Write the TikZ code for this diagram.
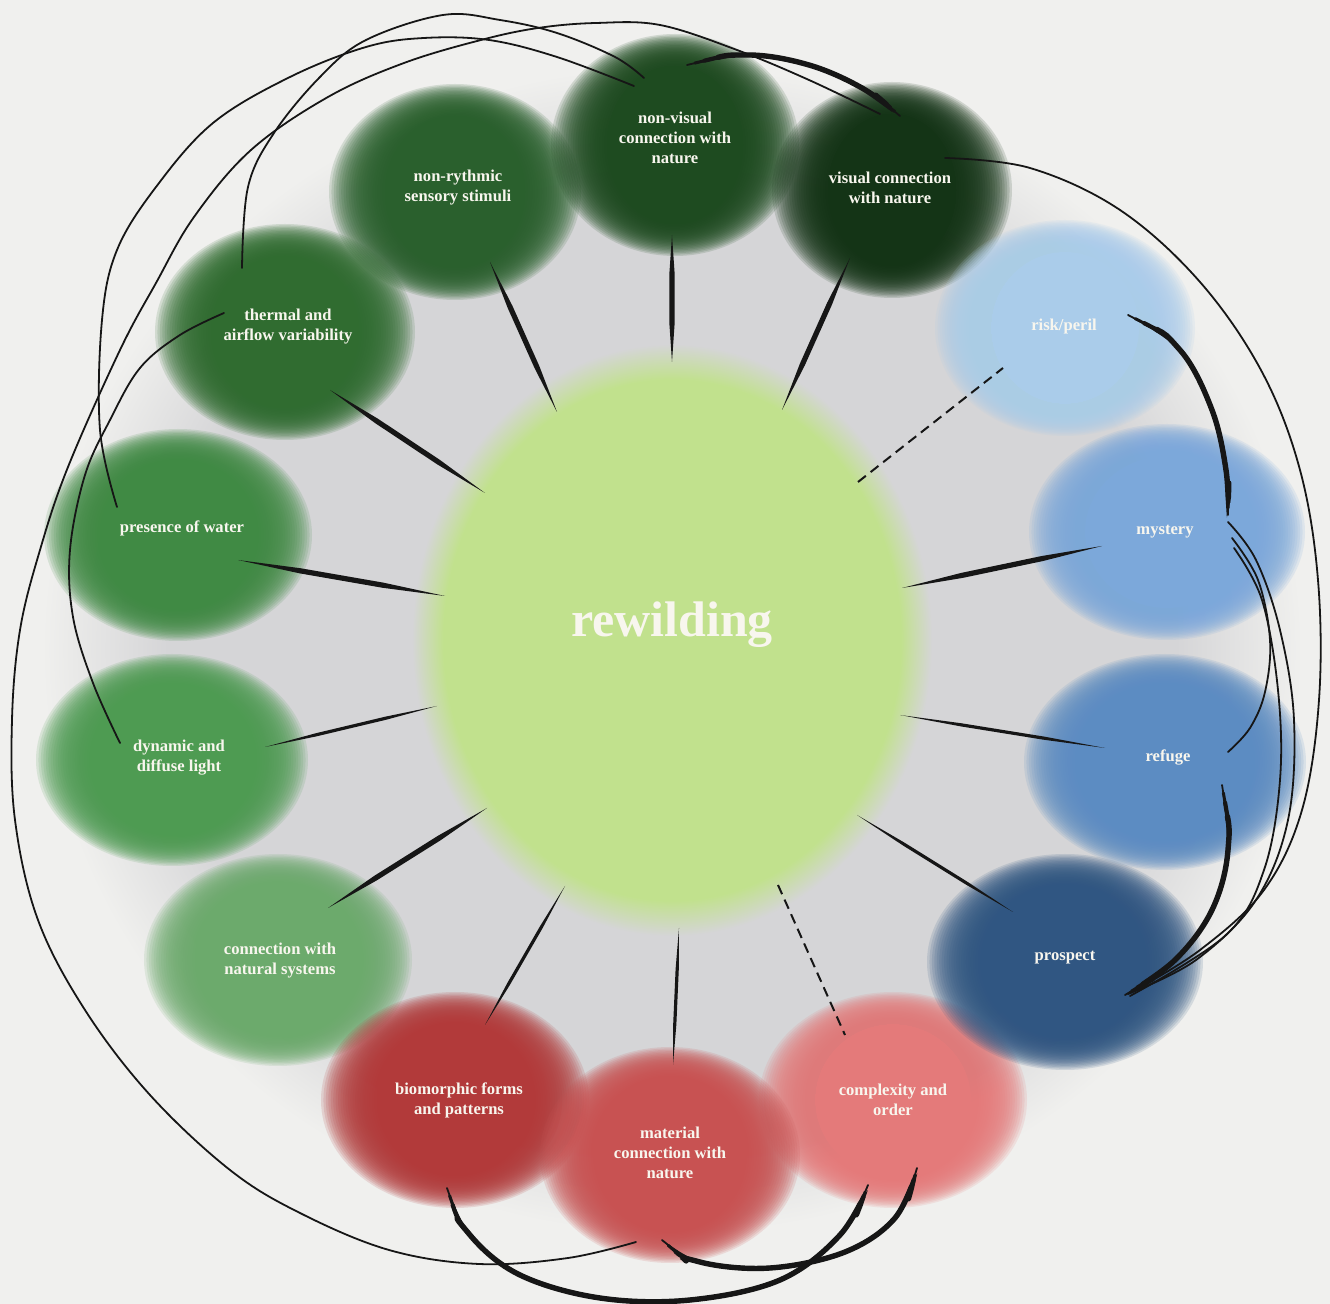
\documentclass[tikz,border=0pt]{standalone}
\usepackage{fontspec}
\setmainfont{Liberation Serif}
\usetikzlibrary{calc}
\definecolor{bg}{RGB}{240,240,238}
\definecolor{graybg}{RGB}{213,213,215}
\definecolor{core}{RGB}{193,225,141}
\definecolor{ink}{RGB}{22,22,22}
\definecolor{cream}{RGB}{248,246,238}
\definecolor{cnv}{RGB}{30,75,32}
\definecolor{cvis}{RGB}{20,52,22}
\definecolor{cnr}{RGB}{42,96,45}
\definecolor{cth}{RGB}{48,108,48}
\definecolor{cwa}{RGB}{64,138,68}
\definecolor{cdl}{RGB}{78,155,82}
\definecolor{cns}{RGB}{108,170,108}
\definecolor{cbf}{RGB}{178,58,58}
\definecolor{cmc}{RGB}{200,82,82}
\definecolor{cco}{RGB}{228,122,122}
\definecolor{cpr}{RGB}{48,86,130}
\definecolor{cre}{RGB}{92,140,194}
\definecolor{cmy}{RGB}{124,168,218}
\definecolor{cri}{RGB}{170,204,234}
\pgfdeclareradialshading{halo}{\pgfpointorigin}{color(0bp)=(graybg); color(20bp)=(graybg); color(25bp)=(bg); color(50bp)=(bg)}
\pgfdeclareradialshading{greencore}{\pgfpointorigin}{color(0bp)=(core); color(22bp)=(core); color(25bp)=(graybg); color(50bp)=(graybg)}
% x y rx ry colour xfade yfade
\newcommand\softblob[7]{%
  \fill[#5] (#1,#2) circle [x radius={(#3-#6)*0.5pt}, y radius={(#4-#7)*0.5pt}];
  \foreach \k in {0,...,23}{%
    \fill[#5, opacity=0.15] (#1,#2) circle [x radius={(#3+#6-\k*2*#6/23)*0.5pt}, y radius={(#4+#7-\k*2*#7/23)*0.5pt}];
  }}
\newcommand\spoke[3]{%
  \path (#1) coordinate (sA) (#2) coordinate (sB);
  \fill[ink] (sA) -- ($(sA)!0.3!(sB)!#3!90:(sB)$) -- ($(sA)!0.7!(sB)!#3!90:(sB)$) -- (sB)
     -- ($(sA)!0.7!(sB)!#3!-90:(sB)$) -- ($(sA)!0.3!(sB)!#3!-90:(sB)$) -- cycle;}
\newcommand\thickcurve[1]{%
  \draw[thincurve] plot[smooth,tension=0.6] coordinates {#1};
  \draw[thincurve, line width=1.5pt, shorten <=4pt, shorten >=4pt] plot[smooth,tension=0.6] coordinates {#1};
  \draw[thincurve, line width=2.1pt, shorten <=9pt, shorten >=9pt] plot[smooth,tension=0.6] coordinates {#1};
  \draw[thincurve, line width=2.7pt, shorten <=16pt, shorten >=16pt] plot[smooth,tension=0.6] coordinates {#1};}
\tikzset{
  thincurve/.style={draw=ink, line width=0.9pt, line cap=round},
  dashspoke/.style={draw=ink, line width=1pt, dash pattern=on 5pt off 3pt},
  lbl/.style={text=cream, font=\bfseries\fontsize{8.3}{10}\selectfont, align=center, inner sep=0pt},
  title/.style={text=cream, font=\bfseries\fontsize{25}{30}\selectfont, inner sep=0pt}
}
\begin{document}
\begin{tikzpicture}[x=0.5pt,y=-0.5pt]
\useasboundingbox (0,0) rectangle (1330,1304);
\fill[bg] (0,0) rectangle (1330,1304);
% gray halo and core
\shade[shading=halo] (672,650) circle [x radius=315pt, y radius=292pt];
\shade[shading=greencore] (672,640) circle [x radius=130pt, y radius=148pt];
% blobs
\softblob{455}{192}{98}{92}{cnr}{28}{16}
\softblob{675}{145}{96}{95}{cnv}{28}{16}
\softblob{892}{190}{92}{92}{cvis}{28}{16}
\softblob{285}{332}{102}{92}{cth}{28}{16}
\softblob{178}{535}{106}{90}{cwa}{28}{16}
\softblob{172}{760}{108}{90}{cdl}{28}{16}
\softblob{278}{960}{106}{90}{cns}{28}{16}
\softblob{455}{1100}{106}{92}{cbf}{28}{16}
\softblob{893}{1100}{106}{92}{cco}{28}{16}
\softblob{670}{1155}{102}{92}{cmc}{28}{16}
\softblob{1065}{962}{110}{92}{cpr}{28}{16}
\softblob{1165}{762}{113}{92}{cre}{28}{16}
\softblob{1167}{532}{110}{92}{cmy}{28}{16}
\softblob{1065}{328}{102}{92}{cri}{28}{16}
% spoke end points
\coordinate (hub-nv) at (672,362);   \coordinate (sp-nv) at (672,235);
\coordinate (hub-vis) at (782,410);  \coordinate (sp-vis) at (850,258);
\coordinate (hub-nr) at (557,412);   \coordinate (sp-nr) at (490,262);
\coordinate (hub-th) at (485,493);   \coordinate (sp-th) at (330,390);
\coordinate (hub-wa) at (445,596);   \coordinate (sp-wa) at (238,560);
\coordinate (hub-dl) at (437,706);   \coordinate (sp-dl) at (265,747);
\coordinate (hub-ns) at (487,808);   \coordinate (sp-ns) at (328,908);
\coordinate (hub-bf) at (565,886);   \coordinate (sp-bf) at (485,1025);
\coordinate (hub-mc) at (679,928);   \coordinate (sp-mc) at (673,1065);
\coordinate (hub-co) at (778,885);   \coordinate (sp-co) at (845,1035);
\coordinate (hub-pr) at (857,815);   \coordinate (sp-pr) at (1013,912);
\coordinate (hub-re) at (900,715);   \coordinate (sp-re) at (1105,748);
\coordinate (hub-my) at (902,588);   \coordinate (sp-my) at (1102,546);
\coordinate (hub-ri) at (858,482);   \coordinate (sp-ri) at (1003,368);
\spoke{hub-nv}{sp-nv}{1.3pt}
\spoke{hub-vis}{sp-vis}{1.3pt}
\spoke{hub-nr}{sp-nr}{1.3pt}
\spoke{hub-th}{sp-th}{1.3pt}
\spoke{hub-wa}{sp-wa}{1.3pt}
\spoke{hub-dl}{sp-dl}{0.8pt}
\spoke{hub-ns}{sp-ns}{1.3pt}
\spoke{hub-bf}{sp-bf}{0.8pt}
\spoke{hub-mc}{sp-mc}{0.8pt}
\spoke{hub-pr}{sp-pr}{0.8pt}
\spoke{hub-re}{sp-re}{0.8pt}
\spoke{hub-my}{sp-my}{1.3pt}
\draw[dashspoke] (hub-co) -- (sp-co);
\draw[dashspoke] (hub-ri) -- (sp-ri);
% curve end points
\coordinate (e-th1) at (242,268);  \coordinate (e-nv1) at (644,78);
\coordinate (e-wa) at (117,507);   \coordinate (e-nv2) at (634,86);
\coordinate (e-th2) at (224,313);  \coordinate (e-dl) at (120,743);
\coordinate (e-vis1) at (880,114); \coordinate (e-mc1) at (636,1242);
\coordinate (e-nv3) at (687,65);   \coordinate (e-vis2) at (900,116);
\coordinate (e-vis3) at (945,158); \coordinate (e-pr1) at (1130,993);
\coordinate (e-ri) at (1128,315);  \coordinate (e-my1) at (1228,515);
\coordinate (e-my2) at (1232,538); \coordinate (e-re1) at (1228,752);
\coordinate (e-my3) at (1228,522); \coordinate (e-pr2) at (1128,994);
\coordinate (e-my4) at (1234,548); \coordinate (e-pr3) at (1130,996);
\coordinate (e-re2) at (1222,785); \coordinate (e-pr4) at (1125,995);
\coordinate (e-bf) at (447,1188);  \coordinate (e-co1) at (868,1185);
\coordinate (e-mc2) at (662,1240); \coordinate (e-co2) at (917,1168);
% thin curves
\draw[thincurve] plot[smooth,tension=0.6] coordinates {(e-th1) (248,187) (274,133) (320,77) (366,40) (443,15) (500,20) (557,33) (615,57) (e-nv1)};
\draw[thincurve] plot[smooth,tension=0.6] coordinates {(e-wa) (100,430) (102,320) (117,250) (156,187) (213,123) (290,77) (366,47) (424,38) (489,40) (557,57) (e-nv2)};
\draw[thincurve] plot[smooth,tension=0.6] coordinates {(e-th2) (180,335) (140,368) (110,420) (85,475) (70,550) (73,617) (93,683) (e-dl)};
\draw[thincurve] plot[smooth,tension=0.6] coordinates {(e-vis1) (809,80) (737,50) (660,25) (596,23) (538,28) (481,40) (404,63) (328,97) (251,150) (194,217) (156,283) (120,350) (68,467) (40,550) (20,630) (12,720) (15,820) (38,920) (85,1010) (150,1095) (230,1170) (300,1213) (389,1250) (479,1264) (568,1258) (e-mc1)};
\draw[thincurve] plot[smooth,tension=0.6] coordinates {(e-vis3) (1030,168) (1120,210) (1200,282) (1262,372) (1300,470) (1318,580) (1319,700) (1302,810) (1264,890) (1200,950) (e-pr1)};
\draw[thincurve] plot[smooth,tension=0.6] coordinates {(e-my2) (1258,580) (1270,640) (1265,692) (1250,728) (e-re1)};
\draw[thincurve] plot[smooth,tension=0.6] coordinates {(e-my3) (1256,560) (1280,630) (1294,720) (1288,820) (1256,900) (1196,960) (e-pr2)};
\draw[thincurve] plot[smooth,tension=0.6] coordinates {(e-my4) (1262,600) (1278,690) (1280,780) (1264,870) (1226,935) (e-pr3)};
% thick curves
\thickcurve{(e-nv3) (748,55) (809,65) (862,88) (e-vis2)}
\thickcurve{(e-ri) (1180,350) (1212,410) (1226,470) (e-my1)}
\thickcurve{(e-re2) (1228,850) (1212,910) (1175,960) (e-pr4)}
\thickcurve{(e-bf) (470,1235) (520,1275) (600,1298) (690,1300) (780,1280) (840,1235) (e-co1)}
\thickcurve{(e-mc2) (700,1262) (770,1268) (845,1252) (895,1218) (e-co2)}
% labels
\node[title] (hub) at (672,625) {rewilding};
\node[lbl] (nv) at (675,138) {non-visual\\connection with\\nature};
\node[lbl] (vis) at (890,188) {visual connection\\with nature};
\node[lbl] (nr) at (458,188) {non-rythmic\\sensory stimuli};
\node[lbl] (th) at (288,327) {thermal and\\airflow variability};
\node[lbl] (wa) at (182,528) {presence of water};
\node[lbl] (dl) at (179,758) {dynamic and\\diffuse light};
\node[lbl] (ns) at (280,961) {connection with\\natural systems};
\node[lbl] (bf) at (459,1100) {biomorphic forms\\and patterns};
\node[lbl] (mc) at (670,1153) {material\\connection with\\nature};
\node[lbl] (co) at (893,1100) {complexity and\\order};
\node[lbl] (pr) at (1065,958) {prospect};
\node[lbl] (re) at (1168,757) {refuge};
\node[lbl] (my) at (1165,532) {mystery};
\node[lbl] (ri) at (1064,327) {risk/peril};
\end{tikzpicture}
\end{document}
